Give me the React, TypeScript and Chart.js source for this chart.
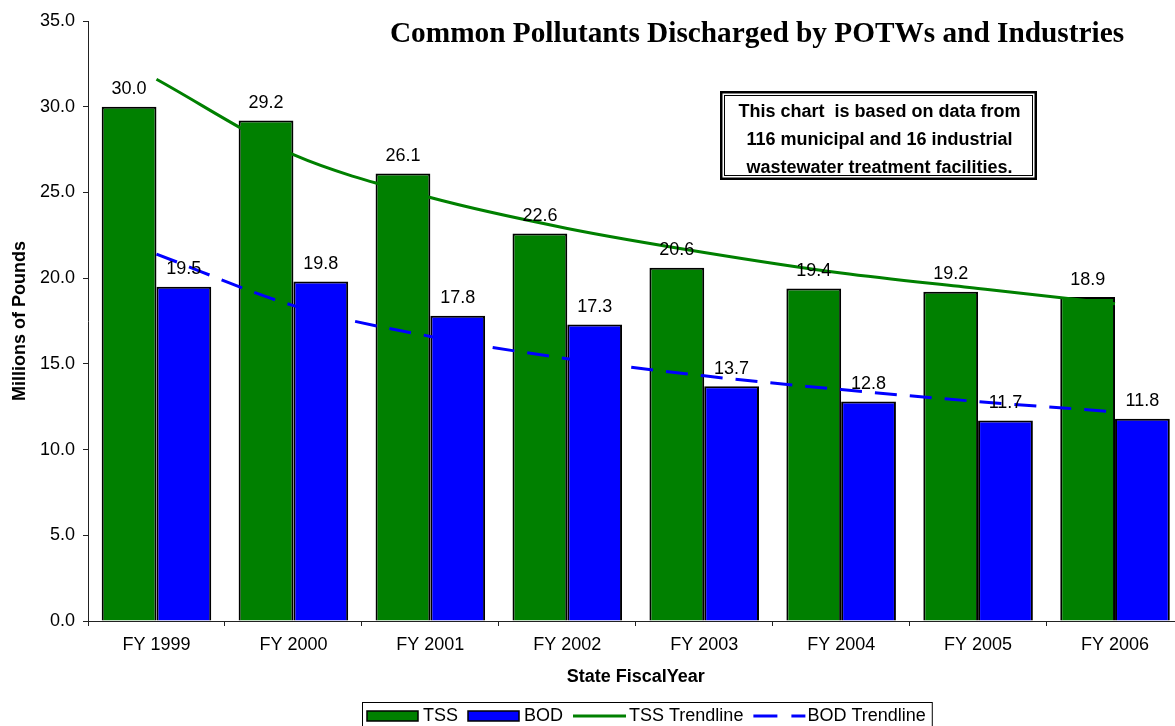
import React, { useEffect, useRef } from "react";
import { Chart, registerables } from "chart.js";

Chart.register(...registerables);

const CATEGORIES = ["FY 1999", "FY 2000", "FY 2001", "FY 2002", "FY 2003", "FY 2004", "FY 2005", "FY 2006"];
const TSS = [30.0, 29.2, 26.1, 22.6, 20.6, 19.4, 19.2, 18.9];
const BOD = [19.5, 19.8, 17.8, 17.3, 13.7, 12.8, 11.7, 11.8];
const TSS_TREND = [31.6, 27.2, 24.7, 22.9, 21.5, 20.3, 19.4, 18.5];
const BOD_TREND = [21.4, 18.4, 16.6, 15.3, 14.3, 13.5, 12.8, 12.2];
const SERIES_LABELS = ["TSS", "BOD", "TSS Trendline", "BOD Trendline"];
const Y_MIN = 0;
const Y_MAX = 35;
const Y_STEP = 5;
const TITLE = "Common Pollutants Discharged by POTWs and Industries";
const NOTE_LINES = [
  "This chart  is based on data from",
  "116 municipal and 16 industrial",
  "wastewater treatment facilities.",
];
const X_TITLE = "State FiscalYear";
const Y_TITLE = "Millions of Pounds";

const GREEN = "#008000";
const BLUE = "#0000FF";
const SANS = "'Liberation Sans', Arial, sans-serif";
const SERIF = "'Liberation Serif', 'Times New Roman', serif";

const W = 1190;
const H = 735;

const overlayPlugin = {
  id: "overlay",
  afterDatasetsDraw(chart: any) {
    const ctx = chart.ctx;
    ctx.save();
    ctx.font = `18px ${SANS}`;
    ctx.fillStyle = "#000";
    ctx.textAlign = "center";
    ctx.textBaseline = "alphabetic";
    [0, 1].forEach((di) => {
      const meta = chart.getDatasetMeta(di);
      meta.data.forEach((el: any, i: number) => {
        const v = chart.data.datasets[di].data[i] as number;
        ctx.fillText(v.toFixed(1), el.x, el.y - 12.5);
      });
    });
    ctx.restore();
  },
  afterDraw(chart: any) {
    const ctx = chart.ctx;
    ctx.save();

    // Title
    ctx.font = `bold 29.3px ${SERIF}`;
    ctx.fillStyle = "#000";
    ctx.textAlign = "center";
    ctx.textBaseline = "alphabetic";
    ctx.fillText(TITLE, 757, 42);

    // Note box (double border)
    const bx = 720, by = 91, bw = 317, bh = 89;
    ctx.fillStyle = "#fff";
    ctx.fillRect(bx, by, bw, bh);
    ctx.strokeStyle = "#000";
    ctx.lineWidth = 2.5;
    ctx.strokeRect(bx + 1.25, by + 1.25, bw - 2.5, bh - 2.5);
    ctx.lineWidth = 1;
    ctx.strokeRect(bx + 4.5, by + 4.5, bw - 9, bh - 9);
    ctx.fillStyle = "#000";
    ctx.font = `bold 18px ${SANS}`;
    ctx.textBaseline = "middle";
    NOTE_LINES.forEach((line, i) => {
      ctx.fillText(line, bx + bw / 2 + 1, 112 + i * 28);
    });

    // Legend
    const lx = 362, ly = 702, cy = 716;
    ctx.font = `18px ${SANS}`;
    ctx.textAlign = "left";
    ctx.textBaseline = "middle";
    let x = lx + 5;
    const sampleW = 51;
    const items = [
      { kind: "box", color: GREEN },
      { kind: "box", color: BLUE },
      { kind: "line", color: GREEN },
      { kind: "dash", color: BLUE },
    ];
    items.forEach((it, i) => {
      if (it.kind === "box") {
        ctx.fillStyle = it.color;
        ctx.fillRect(x, cy - 5, sampleW, 10);
        ctx.strokeStyle = "#000";
        ctx.lineWidth = 1.5;
        ctx.setLineDash([]);
        ctx.strokeRect(x, cy - 5, sampleW, 10);
      } else {
        ctx.strokeStyle = it.color;
        ctx.lineWidth = 3;
        ctx.setLineDash(it.kind === "dash" ? [24, 14] : []);
        ctx.beginPath();
        ctx.moveTo(x, cy);
        ctx.lineTo(x + (it.kind === "dash" ? 52 : 53), cy);
        ctx.stroke();
        ctx.setLineDash([]);
      }
      const tx = x + (it.kind === "box" ? sampleW + 5 : it.kind === "line" ? 56 : 54);
      ctx.fillStyle = "#000";
      ctx.fillText(SERIES_LABELS[i], tx, cy);
      x = tx + ctx.measureText(SERIES_LABELS[i]).width + 10;
    });
    ctx.strokeStyle = "#000";
    ctx.lineWidth = 1;
    ctx.strokeRect(lx + 0.5, ly + 0.5, x - lx - 4, 30);

    ctx.restore();
  },
};

export default function App() {
  const ref = useRef<HTMLCanvasElement | null>(null);

  useEffect(() => {
    document.body.style.overflow = "hidden";
    const canvas = ref.current;
    if (!canvas) return;
    const chart = new Chart(canvas, {
      type: "bar",
      data: {
        labels: CATEGORIES,
        datasets: [
          {
            type: "bar",
            label: SERIES_LABELS[0],
            data: TSS,
            backgroundColor: GREEN,
            borderColor: "#000",
            borderWidth: 2,
            categoryPercentage: 0.8,
            barPercentage: 1.0,
            order: 1,
          },
          {
            type: "bar",
            label: SERIES_LABELS[1],
            data: BOD,
            backgroundColor: BLUE,
            borderColor: "#000",
            borderWidth: 2,
            categoryPercentage: 0.8,
            barPercentage: 1.0,
            order: 1,
          },
          {
            type: "line",
            label: SERIES_LABELS[2],
            data: TSS_TREND,
            borderColor: GREEN,
            borderWidth: 3,
            pointRadius: 0,
            fill: false,
            cubicInterpolationMode: "monotone",
            order: 0,
          },
          {
            type: "line",
            label: SERIES_LABELS[3],
            data: BOD_TREND,
            borderColor: BLUE,
            borderWidth: 3,
            borderDash: [22, 13],
            pointRadius: 0,
            fill: false,
            cubicInterpolationMode: "monotone",
            order: 0,
          },
        ],
      } as any,
      options: {
        responsive: false,
        animation: false,
        devicePixelRatio: 1,
        layout: { padding: { left: 0, right: 6.5, top: 21, bottom: 44 } },
        plugins: {
          legend: { display: false },
          title: { display: false },
          tooltip: { enabled: false },
        },
        scales: {
          x: {
            type: "category",
            offset: true,
            grid: {
              display: true,
              offset: true,
              drawOnChartArea: false,
              drawTicks: true,
              tickLength: 5,
              tickColor: "#222",
            },
            border: { display: true, color: "#222", width: 1 },
            ticks: {
              color: "#000",
              font: { family: SANS, size: 18 },
              padding: 8,
              maxRotation: 0,
              autoSkip: false,
            },
            title: {
              display: true,
              text: X_TITLE,
              color: "#000",
              font: { family: SANS, size: 18, weight: "bold" },
              padding: { top: 0, bottom: 3 },
            },
            afterFit(scale: any) {
              scale.height = 70;
            },
          },
          y: {
            min: Y_MIN,
            max: Y_MAX,
            grid: {
              display: true,
              drawOnChartArea: false,
              drawTicks: true,
              tickLength: 5,
              tickColor: "#222",
            },
            border: { display: true, color: "#222", width: 1 },
            ticks: {
              stepSize: Y_STEP,
              color: "#000",
              font: { family: SANS, size: 18 },
              padding: 8,
              callback: (v: any) => Number(v).toFixed(1),
            },
            title: {
              display: true,
              text: Y_TITLE,
              color: "#000",
              font: { family: SANS, size: 18, weight: "bold" },
              padding: { top: 9, bottom: 0 },
            },
            afterFit(scale: any) {
              scale.width = 88;
            },
          },
        },
      } as any,
      plugins: [overlayPlugin],
    });
    return () => chart.destroy();
  }, []);

  return (
    <div style={{ position: "fixed", left: 0, top: 0, width: W, height: H, background: "#fff" }}>
      <canvas ref={ref} width={W} height={H} style={{ display: "block" }} />
    </div>
  );
}
